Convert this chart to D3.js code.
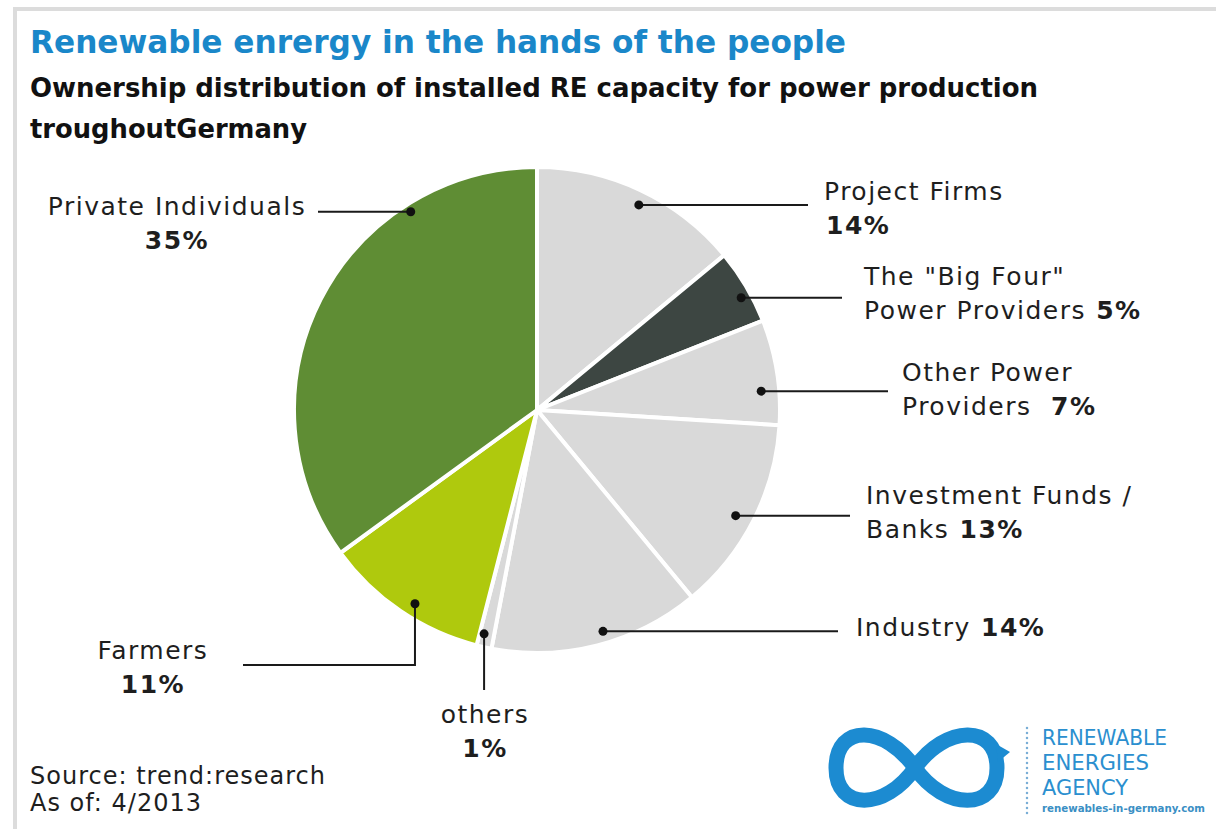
<!DOCTYPE html>
<html>
<head>
<meta charset="utf-8">
<script src="https://cdn.jsdelivr.net/npm/d3@7"></script>
<style>
  body { margin: 0; background: #fff; }
  svg { display: block; }
</style>
</head>
<body>
<script>
const width = 1216;
const height = 829;

// data
const categories = [
    'Project Firms',
    'The "Big Four"\nPower Providers',
    'Other Power\nProviders\u00a0',
    'Investment Funds /\nBanks',
    'Industry',
    'others',
    'Farmers',
    'Private Individuals'
];
const shares = [14, 5, 7, 13, 14, 1, 11, 35];
const sliceColors = ['#d9d9d9', '#3d4642', '#d9d9d9', '#d9d9d9', '#d9d9d9', '#d9d9d9', '#afc90d', '#5f8d34'];

// label placement (angle in degrees, clockwise from 12 o'clock)
const labelLayout = [
    {dotAngle: 26.4, dotR: 229, leader: {type: 'h', x: 808}, x: 824, y: 200, anchor: 'start', inline: false},
    {dotAngle: 61.2, dotR: 233, leader: {type: 'h', x: 842}, x: 864, y: 285, anchor: 'start', inline: true},
    {dotAngle: 85.2, dotR: 225, leader: {type: 'h', x: 888}, x: 902, y: 381, anchor: 'start', inline: true},
    {dotAngle: 118, dotR: 225, leader: {type: 'h', x: 850}, x: 866, y: 504, anchor: 'start', inline: true},
    {dotAngle: 163.4, dotR: 231, leader: {type: 'h', x: 838}, x: 856, y: 636, anchor: 'start', inline: true},
    {dotAngle: 193.3, dotR: 230, leader: {type: 'v', y: 690}, x: 485, y: 723, anchor: 'middle', inline: false},
    {dotAngle: 212.2, dotR: 229, leader: {type: 'vh', y: 665, x: 243}, x: 153, y: 659, anchor: 'middle', inline: false},
    {dotAngle: 327.5, dotR: 235, leader: {type: 'h', x: 318}, x: 177, y: 215, anchor: 'middle', inline: false}
];

const cx = 537, cy = 410, radius = 243;
const labelFont = 'DejaVu Sans';
const lineGap = 33.5;

const svg = d3.select('body').append('svg')
    .attr('width', width)
    .attr('height', height);

// frame
svg.append('rect').attr('x', 13).attr('y', 7).attr('width', width - 13).attr('height', 4).attr('fill', '#dcdcdc');
svg.append('rect').attr('x', 13).attr('y', 7).attr('width', 4).attr('height', height - 7).attr('fill', '#dcdcdc');

// titles
const titles = svg.append('g').attr('font-family', 'DejaVu Sans Condensed').attr('font-weight', 'bold');
titles.append('text').attr('x', 30).attr('y', 53)
    .attr('font-size', 32).attr('fill', '#1a87c9')
    .attr('textLength', 816).attr('lengthAdjust', 'spacingAndGlyphs')
    .text('Renewable enrergy in the hands of the people');
titles.append('text').attr('x', 30).attr('y', 97)
    .attr('font-size', 27).attr('fill', '#111')
    .attr('textLength', 1008).attr('lengthAdjust', 'spacingAndGlyphs')
    .text('Ownership distribution of installed RE capacity for power production');
titles.append('text').attr('x', 30).attr('y', 138)
    .attr('font-size', 27).attr('fill', '#111')
    .attr('textLength', 277).attr('lengthAdjust', 'spacingAndGlyphs')
    .text('troughoutGermany');

// pie
const pie = d3.pie().sort(null).value(d => d)(shares);
const arc = d3.arc().innerRadius(0).outerRadius(radius);

const chart = svg.append('g').attr('transform', `translate(${cx},${cy})`);
chart.selectAll('path.slice')
    .data(pie)
    .join('path')
    .attr('class', 'slice')
    .attr('d', arc)
    .attr('fill', (d, i) => sliceColors[i])
    .attr('stroke', '#fff')
    .attr('stroke-width', 4)
    .attr('stroke-linejoin', 'miter');

// leaders + dots
const toRad = a => a * Math.PI / 180;
const leaders = chart.append('g');
labelLayout.forEach((l, i) => {
    const [px, py] = d3.pointRadial(toRad(l.dotAngle), l.dotR);
    const p = d3.path();
    p.moveTo(px, py);
    if (l.leader.type === 'h') {
        p.lineTo(l.leader.x - cx, py);
    } else if (l.leader.type === 'v') {
        p.lineTo(px, l.leader.y - cy);
    } else {
        p.lineTo(px, l.leader.y - cy);
        p.lineTo(l.leader.x - cx, l.leader.y - cy);
    }
    leaders.append('path').attr('d', p.toString())
        .attr('fill', 'none').attr('stroke', '#1a1a1a').attr('stroke-width', 2);
    leaders.append('circle').attr('cx', px).attr('cy', py).attr('r', 4.5).attr('fill', '#111');
});

// labels
const labels = svg.append('g')
    .attr('font-family', labelFont)
    .attr('font-size', 25)
    .attr('letter-spacing', 1.5)
    .attr('fill', '#1e1e1e');

categories.forEach((name, i) => {
    const l = labelLayout[i];
    const lines = name.split('\n');
    const pct = shares[i] + '%';
    lines.forEach((line, j) => {
        const t = labels.append('text')
            .attr('x', l.x)
            .attr('y', l.y + j * lineGap)
            .attr('text-anchor', l.anchor)
            .style('white-space', 'pre');
        t.append('tspan').text(line);
        if (l.inline && j === lines.length - 1) {
            t.append('tspan').attr('font-weight', 'bold').text('\u00a0' + pct);
        }
    });
    if (!l.inline) {
        labels.append('text')
            .attr('x', l.anchor === 'start' ? l.x + 2 : l.x)
            .attr('y', l.y + lines.length * lineGap)
            .attr('text-anchor', l.anchor)
            .attr('font-weight', 'bold')
            .text(pct);
    }
});

// source
const source = svg.append('g')
    .attr('font-family', labelFont)
    .attr('font-size', 24)
    .attr('letter-spacing', 1)
    .attr('fill', '#1e1e1e');
source.append('text').attr('x', 30).attr('y', 784).text('Source: trend:research');
source.append('text').attr('x', 30).attr('y', 811).text('As of: 4/2013');

// logo
const logoBlue = '#1c8bd1';
const logo = svg.append('g');
logo.append('path')
    .attr('d', 'M915,768 C945,725 997,723 997,768 C997,811 945,811 915,768 C885,725 836,723 836,768 C836,811 885,811 915,768 Z')
    .attr('fill', 'none')
    .attr('stroke', logoBlue)
    .attr('stroke-width', 15);
logo.append('path')
    .attr('d', 'M996,744 L1010,752 L998,762 Z')
    .attr('fill', logoBlue);
logo.append('line')
    .attr('x1', 1027).attr('x2', 1027).attr('y1', 728).attr('y2', 815)
    .attr('stroke', '#7aaed6').attr('stroke-width', 2.5)
    .attr('stroke-linecap', 'round').attr('stroke-dasharray', '0,5');
const logoText = logo.append('g').attr('font-family', 'DejaVu Sans').attr('fill', '#2b8fcf');
[['RENEWABLE', 745, 125], ['ENERGIES', 770, 107], ['AGENCY', 795, 86]].forEach(([s, y, w]) => {
    logoText.append('text').attr('x', 1042).attr('y', y).attr('font-size', 21)
        .attr('textLength', w).attr('lengthAdjust', 'spacingAndGlyphs').text(s);
});
logoText.append('text').attr('x', 1042).attr('y', 812)
    .attr('font-family', 'DejaVu Sans Condensed')
    .attr('font-size', 10).attr('font-weight', 'bold')
    .attr('fill', '#3a8fc4')
    .attr('textLength', 163).attr('lengthAdjust', 'spacingAndGlyphs')
    .text('renewables-in-germany.com');
</script>
</body>
</html>
